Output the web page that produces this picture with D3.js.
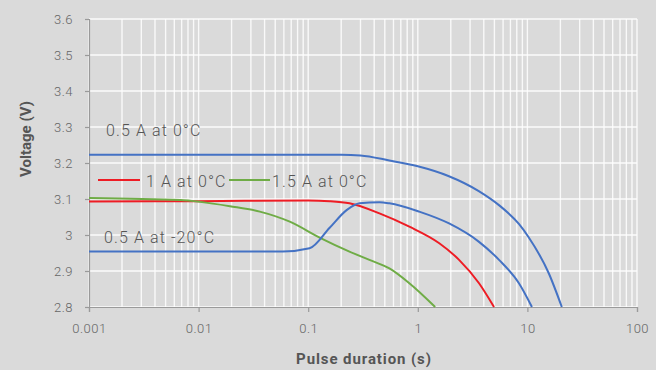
<!DOCTYPE html>
<html><head><meta charset="utf-8">
<script src="https://cdn.jsdelivr.net/npm/d3@7"></script>
<style>
html,body{margin:0;padding:0;background:#dadada;}
svg{display:block;font-family:Roboto,"Liberation Sans",sans-serif;}
</style></head>
<body>
<svg id="c" width="656" height="370"></svg>
<script>
// ---- data ----
const xTickValues = [0.001, 0.01, 0.1, 1, 10, 100];
const xTickLabels = ["0.001", "0.01", "0.1", "1", "10", "100"];
const yTickValues = [2.8, 2.9, 3.0, 3.1, 3.2, 3.3, 3.4, 3.5, 3.6];
const yTickLabels = ["2.8", "2.9", "3", "3.1", "3.2", "3.3", "3.4", "3.5", "3.6"];

const seriesNames = ["0.5 A at 0°C", "1 A at 0°C", "1.5 A at 0°C", "0.5 A at -20°C"];

const blue0T = [0.001, 0.01, 0.1, 0.2, 0.3, 0.55, 1.0, 1.9, 3.6, 5.5, 8.4, 10.3, 15.7, 20.6];
const blue0V = [3.223, 3.223, 3.223, 3.223, 3.221, 3.207, 3.191, 3.164, 3.122, 3.083, 3.030, 2.993, 2.893, 2.80];

const red1T = [0.001, 0.01, 0.1, 0.157, 0.238, 0.447, 0.837, 1.57, 2.38, 3.62, 4.96];
const red1V = [3.093, 3.094, 3.096, 3.094, 3.088, 3.060, 3.023, 2.977, 2.931, 2.866, 2.80];

const green15T = [0.001, 0.00679, 0.0103, 0.0193, 0.0362, 0.0679, 0.127, 0.238, 0.362, 0.551, 0.837, 1.44];
const green15V = [3.103, 3.097, 3.092, 3.080, 3.065, 3.037, 2.993, 2.954, 2.931, 2.907, 2.866, 2.80];

const blue20T = [0.001, 0.0586, 0.103, 0.157, 0.224, 0.294, 0.447, 0.551, 1.03, 1.93, 3.62, 5.51, 8.37, 11.0];
const blue20V = [2.954, 2.954, 2.963, 3.020, 3.069, 3.088, 3.091, 3.088, 3.065, 3.032, 2.981, 2.931, 2.866, 2.80];

// ---- layout ----
const W = 656, H = 370;
const m = {l: 89, r: 19, t: 19, b: 63};
const svg = d3.select("#c");
const x = d3.scaleLog().domain([0.001, 100]).range([m.l, W - m.r]);
const y = d3.scaleLinear().domain([2.8, 3.6]).range([H - m.b, m.t]);

svg.append("rect").attr("width", W).attr("height", H).attr("fill", "#dadada");

// gridlines
const minor = [];
for (let e = -3; e < 2; e++) for (let k = 1; k <= 9; k++) minor.push(k * Math.pow(10, e));
minor.push(100);
svg.append("g").selectAll("line").data(minor).join("line")
  .attr("x1", d => x(d)).attr("x2", d => x(d))
  .attr("y1", y(3.6)).attr("y2", y(2.8))
  .attr("stroke", "#ffffff").attr("stroke-width", 1.4).attr("opacity", 0.85);
svg.append("g").selectAll("line").data(yTickValues).join("line")
  .attr("x1", x(0.001)).attr("x2", x(100))
  .attr("y1", d => y(d)).attr("y2", d => y(d))
  .attr("stroke", "#ffffff").attr("stroke-width", 1.4).attr("opacity", 0.9);

// axes
const yAxis = d3.axisLeft(y).tickValues(yTickValues)
  .tickFormat((d, i) => yTickLabels[i]).tickSize(4).tickPadding(12);
const gy = svg.append("g").attr("transform", `translate(${m.l},0)`).call(yAxis);
const xAxis = d3.axisBottom(x).tickValues(xTickValues)
  .tickFormat((d, i) => xTickLabels[i]).tickSize(5).tickPadding(12);
const gx = svg.append("g").attr("transform", `translate(0,${H - m.b})`).call(xAxis);
[gx, gy].forEach(g => {
  g.select(".domain").attr("stroke", "#9a9a9a").attr("stroke-width", 1.2);
  g.selectAll(".tick line").attr("stroke", "#9a9a9a").attr("stroke-width", 1.2);
  g.selectAll("text").attr("fill", "#666").attr("font-size", 13).attr("font-family", "Roboto, sans-serif")
    .attr("font-weight", 300).attr("letter-spacing", 0.5);
});

// titles
svg.append("text").attr("x", 364).attr("y", 364).attr("text-anchor", "middle")
  .attr("font-size", 15).attr("font-weight", 700).attr("fill", "#555").attr("letter-spacing", 0.9)
  .text("Pulse duration (s)");
svg.append("text").attr("transform", "translate(31,139) rotate(-90)").attr("text-anchor", "middle")
  .attr("font-size", 15).attr("font-weight", 700).attr("fill", "#555")
  .text("Voltage (V)");

// curves
const line = d3.line().x(d => x(d[0])).y(d => y(d[1])).curve(d3.curveMonotoneX);
const series = [
  {t: blue0T, v: blue0V, c: "#4472c4"},
  {t: red1T, v: red1V, c: "#ee1c24"},
  {t: green15T, v: green15V, c: "#6fac46"},
  {t: blue20T, v: blue20V, c: "#4472c4"}
];
svg.append("g").selectAll("path").data(series).join("path")
  .attr("d", s => line(s.t.map((t, i) => [t, s.v[i]])))
  .attr("fill", "none").attr("stroke", s => s.c).attr("stroke-width", 2);

// labels / legend
const lab = svg.append("g").attr("font-size", 16).attr("fill", "#555").attr("font-weight", 300)
  .attr("letter-spacing", 1.1);
lab.append("text").attr("x", 106).attr("y", 136).text(seriesNames[0]);
lab.append("text").attr("x", 104).attr("y", 243).text(seriesNames[3]);
svg.append("line").attr("x1", 98).attr("x2", 140).attr("y1", 180).attr("y2", 180)
  .attr("stroke", "#ee1c24").attr("stroke-width", 2);
lab.append("text").attr("x", 146).attr("y", 187).text(seriesNames[1]);
svg.append("line").attr("x1", 229).attr("x2", 270).attr("y1", 180).attr("y2", 180)
  .attr("stroke", "#6fac46").attr("stroke-width", 2);
lab.append("text").attr("x", 272).attr("y", 187).text(seriesNames[2]);
</script>
</body></html>
